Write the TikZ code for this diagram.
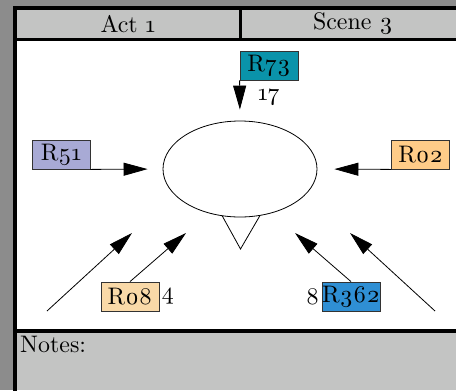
\documentclass[tikz,border=0pt]{standalone}
\usepackage{fontspec}
\setmainfont{lmroman10-regular.otf}[Numbers=OldStyle]
\usepackage{tikz}
\usetikzlibrary{shapes.geometric}
\usetikzlibrary{arrows,arrows.meta}
\usetikzlibrary{positioning}
\definecolor{outer}{HTML}{8C8C8C}
\definecolor{band}{HTML}{C3C4C3}
\definecolor{teal73}{HTML}{0A93AA}
\definecolor{lav51}{HTML}{A8AAD5}
\definecolor{org02}{HTML}{FFCC88}
\definecolor{sand08}{HTML}{F9D9A8}
\definecolor{blue362}{HTML}{2F8FD4}

\begin{document}
\begin{tikzpicture}[x=1bp,y=-1bp,font=\fontsize{24}{28}\selectfont,
		rbox/.style={draw=black!80,minimum width=58bp,minimum height=29bp,inner sep=0pt,line width=0.8bp},
		arr/.style={line width=0.8bp,arrows={-Triangle[length=24bp,width=13bp]}}]
		\useasboundingbox (0,0) rectangle (456,390);
		%画框和页眉页脚
		\fill[outer] (0,0) rectangle (456,390);
		\fill[white] (15,8) rectangle (470,390);
		\fill[band] (15,8) rectangle (470,39.5);
		\fill[band] (15,331) rectangle (470,390);
		\draw[line width=4bp] (14.8,400) |- (470,8);
		\draw[line width=3bp] (15,39.5) -- (470,39.5);
		\draw[line width=3bp] (240,8) -- (240,39.5);
		\draw[line width=4bp] (15,331) -- (470,331);
		\node (act) at (128,24) {Act 1};
		\node (scene) at (353,24) {Scene 3};
		\node (notes) [anchor=base west,inner sep=0pt] at (20,352.5) {Notes:};
		
		%定义具体形状
		\draw[fill=white,line width=0.8bp] (222,215.5) -- (240.5,249) -- (260,215.5) -- cycle;
		\node (hub) [draw,ellipse,fill=white,line width=0.8bp,minimum width=154bp,minimum height=96bp,inner sep=0pt] at (240,169) {};
		\node (R73) [rbox,fill=teal73] at (269,65.5) {R73};
		\node (R51) [rbox,fill=lav51] at (61,154.5) {R51};
		\node (R02) [rbox,fill=org02] at (420.5,154.5) {R02};
		\node (R08) [rbox,fill=sand08] at (130,296.5) {R08};
		\node (R362) [rbox,fill=blue362] at (351,296.5) {R362};
		\node (n17) at (269,97) {17};
		\node (n4) [right=2bp of R08,inner sep=0pt] {4};
		\node (n8) [left=2bp of R362,inner sep=0pt] {8};
		\coordinate (ll) at (47,311);
		\coordinate (llt) at (132,233);
		\coordinate (lrt) at (186,233);
		\coordinate (rlt) at (295,233);
		\coordinate (rr) at (435,311);
		\coordinate (rrt) at (350,233);
		
		%连接具体形状
		\draw[arr,shorten >=11bp] (R73.south west) -- (hub.north);
		\draw[arr,shorten >=15bp] (R51.south east) -- (hub.west);
		\draw[arr,shorten >=17bp] (R02.south west) -- (hub.east);
		\draw[arr] (ll) -- (llt);
		\draw[arr] (R08.north) -- (lrt);
		\draw[arr] (R362.north) -- (rlt);
		\draw[arr] (rr) -- (rrt);
	\end{tikzpicture}
\end{document}
